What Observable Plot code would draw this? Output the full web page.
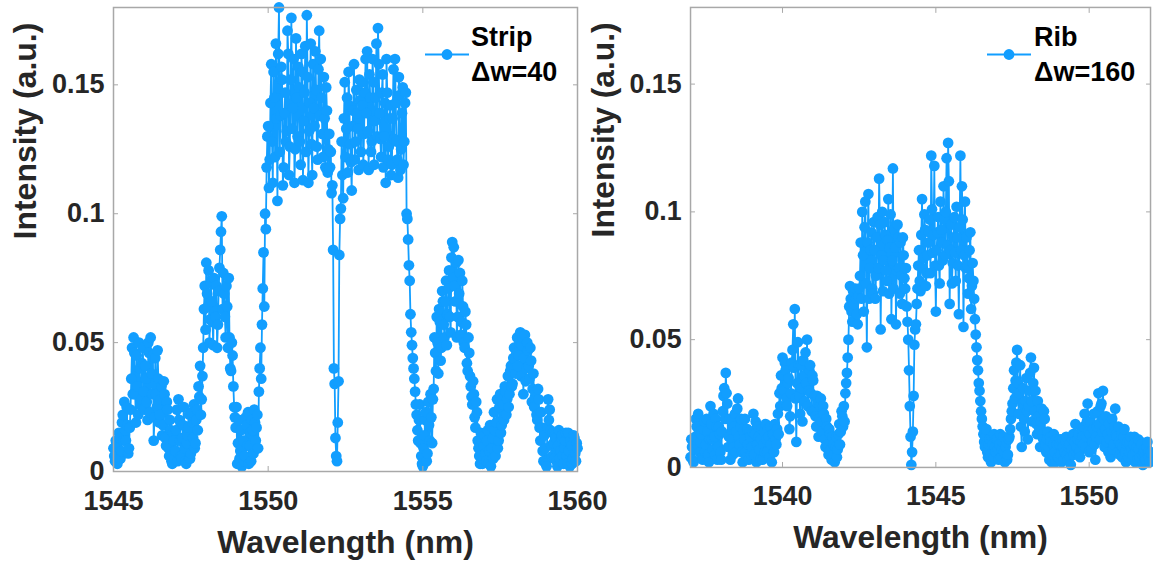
<!DOCTYPE html>
<html><head><meta charset="utf-8">
<script src="https://cdn.jsdelivr.net/npm/d3@7"></script>
<script src="https://cdn.jsdelivr.net/npm/@observablehq/plot@0.6"></script>
<style>
html,body{margin:0;padding:0;background:#fff;}
body{width:1153px;height:563px;overflow:hidden;position:relative;font-family:"Liberation Sans",Arial,sans-serif;}
.panel{position:absolute;top:0;}
.legend{position:absolute;top:20px;font-weight:bold;font-size:27px;line-height:35px;color:#000;white-space:nowrap;}
.swatch{position:absolute;top:48px;}
</style></head><body>
<div id="left" class="panel" style="left:0px"></div>
<div id="right" class="panel" style="left:578px"></div>
<script>
// ---- Strip (Δw=40): samples on the 0.05 nm grid ----
const stripWavelength = [
1545,1545.05,1545.1,1545.15,1545.2,1545.25,1545.3,1545.35,1545.4,1545.45,1545.5,1545.55,1545.6,1545.65,1545.7,1545.75,1545.8,1545.85,1545.9,1545.95,
1546,1546.05,1546.1,1546.15,1546.2,1546.25,1546.3,1546.35,1546.4,1546.45,1546.5,1546.55,1546.6,1546.65,1546.7,1546.75,1546.8,1546.85,1546.9,1546.95,
1547,1547.05,1547.1,1547.15,1547.2,1547.25,1547.3,1547.35,1547.4,1547.45,1547.5,1547.55,1547.6,1547.65,1547.7,1547.75,1547.8,1547.85,1547.9,1547.95,
1548,1548.05,1548.1,1548.15,1548.2,1548.25,1548.3,1548.35,1548.4,1548.45,1548.5,1548.55,1548.6,1548.65,1548.7,1548.75,1548.8,1548.85,1548.9,1548.95,
1549,1549.05,1549.1,1549.15,1549.2,1549.25,1549.3,1549.35,1549.4,1549.45,1549.5,1549.55,1549.6,1549.65,1549.7,1549.75,1549.8,1549.85,1549.9,1549.95,
1550,1550.05,1550.1,1550.15,1550.2,1550.25,1550.3,1550.35,1550.4,1550.45,1550.5,1550.55,1550.6,1550.65,1550.7,1550.75,1550.8,1550.85,1550.9,1550.95,
1551,1551.05,1551.1,1551.15,1551.2,1551.25,1551.3,1551.35,1551.4,1551.45,1551.5,1551.55,1551.6,1551.65,1551.7,1551.75,1551.8,1551.85,1551.9,1551.95,
1552,1552.05,1552.1,1552.15,1552.2,1552.25,1552.3,1552.35,1552.4,1552.45,1552.5,1552.55,1552.6,1552.65,1552.7,1552.75,1552.8,1552.85,1552.9,1552.95,
1553,1553.05,1553.1,1553.15,1553.2,1553.25,1553.3,1553.35,1553.4,1553.45,1553.5,1553.55,1553.6,1553.65,1553.7,1553.75,1553.8,1553.85,1553.9,1553.95,
1554,1554.05,1554.1,1554.15,1554.2,1554.25,1554.3,1554.35,1554.4,1554.45,1554.5,1554.55,1554.6,1554.65,1554.7,1554.75,1554.8,1554.85,1554.9,1554.95,
1555,1555.05,1555.1,1555.15,1555.2,1555.25,1555.3,1555.35,1555.4,1555.45,1555.5,1555.55,1555.6,1555.65,1555.7,1555.75,1555.8,1555.85,1555.9,1555.95,
1556,1556.05,1556.1,1556.15,1556.2,1556.25,1556.3,1556.35,1556.4,1556.45,1556.5,1556.55,1556.6,1556.65,1556.7,1556.75,1556.8,1556.85,1556.9,1556.95,
1557,1557.05,1557.1,1557.15,1557.2,1557.25,1557.3,1557.35,1557.4,1557.45,1557.5,1557.55,1557.6,1557.65,1557.7,1557.75,1557.8,1557.85,1557.9,1557.95,
1558,1558.05,1558.1,1558.15,1558.2,1558.25,1558.3,1558.35,1558.4,1558.45,1558.5,1558.55,1558.6,1558.65,1558.7,1558.75,1558.8,1558.85,1558.9,1558.95,
1559,1559.05,1559.1,1559.15,1559.2,1559.25,1559.3,1559.35,1559.4,1559.45,1559.5,1559.55,1559.6,1559.65,1559.7,1559.75,1559.8,1559.85,1559.9,1559.95,
1560];
const stripIntensity = [
0.009,0.004,0.011,0.006,0.013,0.008,0.022,0.027,0.012,0.018,0.009,0.024,0.048,0.052,0.03,0.045,0.022,0.04,0.028,0.048,
0.024,0.036,0.02,0.046,0.052,0.03,0.012,0.044,0.025,0.036,0.022,0.033,0.018,0.03,0.01,0.024,0.006,0.016,0.003,0.012,
0.008,0.024,0.028,0.012,0.005,0.018,0.009,0.003,0.014,0.022,0.007,0.019,0.026,0.011,0.024,0.033,0.041,0.028,0.048,0.072,
0.081,0.064,0.05,0.073,0.058,0.075,0.06,0.048,0.07,0.086,0.099,0.077,0.06,0.072,0.048,0.052,0.039,0.045,0.025,0.017,
0.003,0.02,0.008,0.002,0.012,0.006,0.018,0.023,0.01,0.004,0.016,0.024,0.012,0.022,0.031,0.048,0.057,0.085,0.1,0.118,
0.134,0.121,0.158,0.112,0.145,0.166,0.105,0.18,0.138,0.152,0.118,0.147,0.132,0.162,0.126,0.176,0.141,0.112,0.168,0.13,
0.149,0.119,0.155,0.136,0.165,0.177,0.112,0.143,0.127,0.158,0.134,0.148,0.121,0.171,0.16,0.131,0.153,0.118,0.14,0.125,
0.118,0.108,0.086,0.034,0.006,0.019,0.084,0.102,0.115,0.137,0.122,0.145,0.155,0.127,0.109,0.14,0.121,0.148,0.133,0.152,
0.124,0.142,0.131,0.16,0.163,0.117,0.145,0.128,0.151,0.136,0.166,0.172,0.139,0.122,0.154,0.13,0.112,0.147,0.126,0.142,
0.119,0.156,0.16,0.128,0.114,0.146,0.125,0.149,0.128,0.147,0.098,0.08,0.061,0.049,0.04,0.031,0.022,0.012,0.026,0.006,
0.002,0.014,0.023,0.007,0.018,0.03,0.011,0.032,0.046,0.06,0.038,0.058,0.048,0.066,0.052,0.074,0.061,0.078,0.054,0.089,
0.087,0.066,0.052,0.082,0.077,0.058,0.064,0.048,0.057,0.039,0.046,0.033,0.026,0.03,0.017,0.023,0.009,0.003,0.012,0.005,
0.014,0.004,0.016,0.008,0.002,0.013,0.023,0.006,0.028,0.012,0.03,0.018,0.026,0.033,0.022,0.037,0.03,0.041,0.034,0.048,
0.038,0.052,0.045,0.054,0.049,0.03,0.053,0.04,0.047,0.036,0.043,0.032,0.025,0.031,0.02,0.028,0.012,0.017,0.004,0.009,
0.002,0.028,0.024,0.01,0.015,0.005,0.013,0.002,0.016,0.008,0.014,0.003,0.012,0.006,0.015,0.002,0.01,0.005,0.013,0.004,
0.009];
// ---- Strip: samples between the grid points ----
const stripWavelengthMid = [
1545.025,1545.075,1545.125,1545.175,1545.225,1545.275,1545.325,1545.375,1545.425,1545.475,1545.525,1545.575,1545.625,1545.675,1545.725,1545.775,1545.825,1545.875,1545.925,1545.975,
1546.025,1546.075,1546.125,1546.175,1546.225,1546.275,1546.325,1546.375,1546.425,1546.475,1546.525,1546.575,1546.625,1546.675,1546.725,1546.775,1546.825,1546.875,1546.925,1546.975,
1547.025,1547.075,1547.125,1547.175,1547.225,1547.275,1547.325,1547.375,1547.425,1547.475,1547.525,1547.575,1547.625,1547.675,1547.725,1547.775,1547.825,1547.875,1547.925,1547.975,
1548.025,1548.075,1548.125,1548.175,1548.225,1548.275,1548.325,1548.375,1548.425,1548.475,1548.525,1548.575,1548.625,1548.675,1548.725,1548.775,1548.825,1548.875,1548.925,1548.975,
1549.025,1549.075,1549.125,1549.175,1549.225,1549.275,1549.325,1549.375,1549.425,1549.475,1549.525,1549.575,1549.625,1549.675,1549.725,1549.775,1549.825,1549.875,1549.925,1549.975,
1550.025,1550.075,1550.125,1550.175,1550.225,1550.275,1550.325,1550.375,1550.425,1550.475,1550.525,1550.575,1550.625,1550.675,1550.725,1550.775,1550.825,1550.875,1550.925,1550.975,
1551.025,1551.075,1551.125,1551.175,1551.225,1551.275,1551.325,1551.375,1551.425,1551.475,1551.525,1551.575,1551.625,1551.675,1551.725,1551.775,1551.825,1551.875,1551.925,1551.975,
1552.025,1552.075,1552.125,1552.175,1552.225,1552.275,1552.325,1552.375,1552.425,1552.475,1552.525,1552.575,1552.625,1552.675,1552.725,1552.775,1552.825,1552.875,1552.925,1552.975,
1553.025,1553.075,1553.125,1553.175,1553.225,1553.275,1553.325,1553.375,1553.425,1553.475,1553.525,1553.575,1553.625,1553.675,1553.725,1553.775,1553.825,1553.875,1553.925,1553.975,
1554.025,1554.075,1554.125,1554.175,1554.225,1554.275,1554.325,1554.375,1554.425,1554.475,1554.525,1554.575,1554.625,1554.675,1554.725,1554.775,1554.825,1554.875,1554.925,1554.975,
1555.025,1555.075,1555.125,1555.175,1555.225,1555.275,1555.325,1555.375,1555.425,1555.475,1555.525,1555.575,1555.625,1555.675,1555.725,1555.775,1555.825,1555.875,1555.925,1555.975,
1556.025,1556.075,1556.125,1556.175,1556.225,1556.275,1556.325,1556.375,1556.425,1556.475,1556.525,1556.575,1556.625,1556.675,1556.725,1556.775,1556.825,1556.875,1556.925,1556.975,
1557.025,1557.075,1557.125,1557.175,1557.225,1557.275,1557.325,1557.375,1557.425,1557.475,1557.525,1557.575,1557.625,1557.675,1557.725,1557.775,1557.825,1557.875,1557.925,1557.975,
1558.025,1558.075,1558.125,1558.175,1558.225,1558.275,1558.325,1558.375,1558.425,1558.475,1558.525,1558.575,1558.625,1558.675,1558.725,1558.775,1558.825,1558.875,1558.925,1558.975,
1559.025,1559.075,1559.125,1559.175,1559.225,1559.275,1559.325,1559.375,1559.425,1559.475,1559.525,1559.575,1559.625,1559.675,1559.725,1559.775,1559.825,1559.875,1559.925,1559.975];
const stripIntensityMid = [
0.006,0.012,0.003,0.015,0.005,0.019,0.012,0.016,0.025,0.007,0.017,0.036,0.03,0.046,0.019,0.033,0.05,0.026,0.042,0.031,
0.041,0.027,0.05,0.023,0.038,0.045,0.021,0.03,0.047,0.019,0.028,0.014,0.035,0.013,0.027,0.009,0.02,0.004,0.015,0.005,
0.016,0.004,0.02,0.006,0.013,0.025,0.004,0.011,0.017,0.005,0.023,0.013,0.009,0.02,0.016,0.029,0.022,0.037,0.063,0.055,
0.069,0.078,0.059,0.066,0.049,0.062,0.072,0.057,0.079,0.093,0.063,0.069,0.052,0.064,0.075,0.04,0.05,0.033,0.021,0.025,
0.011,0.005,0.016,0.009,0.004,0.021,0.01,0.003,0.015,0.02,0.007,0.019,0.017,0.009,0.04,0.036,0.071,0.064,0.094,0.13,
0.11,0.143,0.128,0.155,0.122,0.137,0.162,0.124,0.157,0.111,0.139,0.128,0.171,0.115,0.152,0.133,0.16,0.125,0.145,0.157,
0.128,0.162,0.113,0.147,0.124,0.153,0.132,0.166,0.115,0.141,0.163,0.126,0.156,0.138,0.145,0.122,0.137,0.149,0.116,0.131,
0.124,0.111,0.04,0.013,0.004,0.035,0.098,0.128,0.106,0.151,0.133,0.116,0.142,0.12,0.134,0.158,0.128,0.139,0.117,0.144,
0.151,0.119,0.147,0.139,0.132,0.154,0.124,0.16,0.119,0.145,0.13,0.158,0.129,0.147,0.118,0.143,0.16,0.121,0.137,0.115,
0.137,0.129,0.143,0.121,0.153,0.117,0.139,0.119,0.143,0.1,0.09,0.074,0.054,0.044,0.036,0.026,0.016,0.02,0.011,0.003,
0.009,0.02,0.004,0.027,0.012,0.021,0.028,0.052,0.039,0.05,0.063,0.043,0.07,0.057,0.066,0.049,0.071,0.06,0.083,0.075,
0.072,0.081,0.06,0.069,0.053,0.074,0.05,0.062,0.042,0.052,0.037,0.029,0.035,0.021,0.027,0.012,0.006,0.015,0.003,0.01,
0.007,0.012,0.003,0.018,0.009,0.005,0.016,0.019,0.009,0.025,0.015,0.028,0.02,0.031,0.028,0.025,0.039,0.033,0.044,0.04,
0.046,0.041,0.05,0.037,0.052,0.044,0.035,0.05,0.041,0.048,0.027,0.038,0.029,0.022,0.032,0.017,0.023,0.008,0.014,0.003,
0.017,0.02,0.016,0.006,0.011,0.014,0.004,0.01,0.005,0.013,0.006,0.009,0.015,0.003,0.008,0.012,0.003,0.014,0.007,0.011];

// ---- Rib (Δw=160): samples on the 0.05 nm grid ----
const ribWavelength = [
1537,1537.05,1537.1,1537.15,1537.2,1537.25,1537.3,1537.35,1537.4,1537.45,1537.5,1537.55,1537.6,1537.65,1537.7,1537.75,1537.8,1537.85,1537.9,1537.95,
1538,1538.05,1538.1,1538.15,1538.2,1538.25,1538.3,1538.35,1538.4,1538.45,1538.5,1538.55,1538.6,1538.65,1538.7,1538.75,1538.8,1538.85,1538.9,1538.95,
1539,1539.05,1539.1,1539.15,1539.2,1539.25,1539.3,1539.35,1539.4,1539.45,1539.5,1539.55,1539.6,1539.65,1539.7,1539.75,1539.8,1539.85,1539.9,1539.95,
1540,1540.05,1540.1,1540.15,1540.2,1540.25,1540.3,1540.35,1540.4,1540.45,1540.5,1540.55,1540.6,1540.65,1540.7,1540.75,1540.8,1540.85,1540.9,1540.95,
1541,1541.05,1541.1,1541.15,1541.2,1541.25,1541.3,1541.35,1541.4,1541.45,1541.5,1541.55,1541.6,1541.65,1541.7,1541.75,1541.8,1541.85,1541.9,1541.95,
1542,1542.05,1542.1,1542.15,1542.2,1542.25,1542.3,1542.35,1542.4,1542.45,1542.5,1542.55,1542.6,1542.65,1542.7,1542.75,1542.8,1542.85,1542.9,1542.95,
1543,1543.05,1543.1,1543.15,1543.2,1543.25,1543.3,1543.35,1543.4,1543.45,1543.5,1543.55,1543.6,1543.65,1543.7,1543.75,1543.8,1543.85,1543.9,1543.95,
1544,1544.05,1544.1,1544.15,1544.2,1544.25,1544.3,1544.35,1544.4,1544.45,1544.5,1544.55,1544.6,1544.65,1544.7,1544.75,1544.8,1544.85,1544.9,1544.95,
1545,1545.05,1545.1,1545.15,1545.2,1545.25,1545.3,1545.35,1545.4,1545.45,1545.5,1545.55,1545.6,1545.65,1545.7,1545.75,1545.8,1545.85,1545.9,1545.95,
1546,1546.05,1546.1,1546.15,1546.2,1546.25,1546.3,1546.35,1546.4,1546.45,1546.5,1546.55,1546.6,1546.65,1546.7,1546.75,1546.8,1546.85,1546.9,1546.95,
1547,1547.05,1547.1,1547.15,1547.2,1547.25,1547.3,1547.35,1547.4,1547.45,1547.5,1547.55,1547.6,1547.65,1547.7,1547.75,1547.8,1547.85,1547.9,1547.95,
1548,1548.05,1548.1,1548.15,1548.2,1548.25,1548.3,1548.35,1548.4,1548.45,1548.5,1548.55,1548.6,1548.65,1548.7,1548.75,1548.8,1548.85,1548.9,1548.95,
1549,1549.05,1549.1,1549.15,1549.2,1549.25,1549.3,1549.35,1549.4,1549.45,1549.5,1549.55,1549.6,1549.65,1549.7,1549.75,1549.8,1549.85,1549.9,1549.95,
1550,1550.05,1550.1,1550.15,1550.2,1550.25,1550.3,1550.35,1550.4,1550.45,1550.5,1550.55,1550.6,1550.65,1550.7,1550.75,1550.8,1550.85,1550.9,1550.95,
1551,1551.05,1551.1,1551.15,1551.2,1551.25,1551.3,1551.35,1551.4,1551.45,1551.5,1551.55,1551.6,1551.65,1551.7,1551.75,1551.8,1551.85,1551.9,1551.95,
1552];
const ribIntensity = [
0.004,0.008,0.002,0.012,0.016,0.021,0.006,0.013,0.003,0.018,0.009,0.014,0.002,0.024,0.011,0.021,0.005,0.016,0.008,0.013,
0.003,0.022,0.031,0.037,0.025,0.012,0.003,0.018,0.008,0.021,0.014,0.027,0.009,0.019,0.002,0.011,0.006,0.015,0.003,0.012,
0.008,0.021,0.013,0.002,0.016,0.007,0.011,0.003,0.014,0.017,0.006,0.012,0.016,0.002,0.013,0.017,0.009,0.021,0.029,0.036,
0.043,0.03,0.038,0.024,0.035,0.02,0.041,0.056,0.062,0.01,0.049,0.028,0.04,0.018,0.036,0.045,0.05,0.03,0.04,0.022,
0.034,0.028,0.016,0.025,0.019,0.027,0.014,0.021,0.008,0.016,0.005,0.013,0.003,0.009,0.002,0.012,0.007,0.017,0.014,0.02,
0.024,0.029,0.037,0.05,0.071,0.061,0.069,0.058,0.066,0.056,0.07,0.088,0.1,0.061,0.104,0.047,0.107,0.078,0.092,0.068,
0.085,0.075,0.098,0.113,0.054,0.1,0.081,0.091,0.073,0.105,0.086,0.058,0.117,0.093,0.056,0.095,0.078,0.088,0.064,0.083,
0.07,0.063,0.05,0.024,0.001,0.014,0.048,0.056,0.07,0.085,0.069,0.105,0.082,0.093,0.076,0.088,0.097,0.122,0.084,0.118,
0.061,0.092,0.079,0.104,0.088,0.11,0.083,0.121,0.127,0.064,0.095,0.08,0.098,0.073,0.09,0.06,0.122,0.11,0.055,0.104,
0.09,0.068,0.085,0.062,0.08,0.066,0.052,0.042,0.033,0.026,0.019,0.013,0.008,0.015,0.004,0.011,0.002,0.009,0.013,0.006,
0.011,0.003,0.013,0.007,0.012,0.002,0.01,0.005,0.012,0.019,0.025,0.038,0.034,0.046,0.021,0.04,0.008,0.031,0.014,0.035,
0.011,0.03,0.043,0.018,0.039,0.03,0.013,0.02,0.008,0.023,0.011,0.019,0.006,0.014,0.003,0.01,0.005,0.013,0.002,0.009,
0.004,0.011,0.002,0.008,0.006,0.012,0.003,0.009,0.001,0.011,0.005,0.017,0.008,0.013,0.004,0.015,0.009,0.021,0.012,0.025,
0.006,0.018,0.01,0.021,0.003,0.016,0.029,0.011,0.025,0.03,0.008,0.02,0.013,0.017,0.004,0.019,0.009,0.023,0.012,0.016,
0.005,0.013,0.008,0.015,0.002,0.01,0.006,0.012,0.003,0.009,0.002,0.008,0.011,0.004,0.009,0.001,0.007,0.003,0.01,0.004,
0.006];
// ---- Rib: samples between the grid points ----
const ribWavelengthMid = [
1537.025,1537.075,1537.125,1537.175,1537.225,1537.275,1537.325,1537.375,1537.425,1537.475,1537.525,1537.575,1537.625,1537.675,1537.725,1537.775,1537.825,1537.875,1537.925,1537.975,
1538.025,1538.075,1538.125,1538.175,1538.225,1538.275,1538.325,1538.375,1538.425,1538.475,1538.525,1538.575,1538.625,1538.675,1538.725,1538.775,1538.825,1538.875,1538.925,1538.975,
1539.025,1539.075,1539.125,1539.175,1539.225,1539.275,1539.325,1539.375,1539.425,1539.475,1539.525,1539.575,1539.625,1539.675,1539.725,1539.775,1539.825,1539.875,1539.925,1539.975,
1540.025,1540.075,1540.125,1540.175,1540.225,1540.275,1540.325,1540.375,1540.425,1540.475,1540.525,1540.575,1540.625,1540.675,1540.725,1540.775,1540.825,1540.875,1540.925,1540.975,
1541.025,1541.075,1541.125,1541.175,1541.225,1541.275,1541.325,1541.375,1541.425,1541.475,1541.525,1541.575,1541.625,1541.675,1541.725,1541.775,1541.825,1541.875,1541.925,1541.975,
1542.025,1542.075,1542.125,1542.175,1542.225,1542.275,1542.325,1542.375,1542.425,1542.475,1542.525,1542.575,1542.625,1542.675,1542.725,1542.775,1542.825,1542.875,1542.925,1542.975,
1543.025,1543.075,1543.125,1543.175,1543.225,1543.275,1543.325,1543.375,1543.425,1543.475,1543.525,1543.575,1543.625,1543.675,1543.725,1543.775,1543.825,1543.875,1543.925,1543.975,
1544.025,1544.075,1544.125,1544.175,1544.225,1544.275,1544.325,1544.375,1544.425,1544.475,1544.525,1544.575,1544.625,1544.675,1544.725,1544.775,1544.825,1544.875,1544.925,1544.975,
1545.025,1545.075,1545.125,1545.175,1545.225,1545.275,1545.325,1545.375,1545.425,1545.475,1545.525,1545.575,1545.625,1545.675,1545.725,1545.775,1545.825,1545.875,1545.925,1545.975,
1546.025,1546.075,1546.125,1546.175,1546.225,1546.275,1546.325,1546.375,1546.425,1546.475,1546.525,1546.575,1546.625,1546.675,1546.725,1546.775,1546.825,1546.875,1546.925,1546.975,
1547.025,1547.075,1547.125,1547.175,1547.225,1547.275,1547.325,1547.375,1547.425,1547.475,1547.525,1547.575,1547.625,1547.675,1547.725,1547.775,1547.825,1547.875,1547.925,1547.975,
1548.025,1548.075,1548.125,1548.175,1548.225,1548.275,1548.325,1548.375,1548.425,1548.475,1548.525,1548.575,1548.625,1548.675,1548.725,1548.775,1548.825,1548.875,1548.925,1548.975,
1549.025,1549.075,1549.125,1549.175,1549.225,1549.275,1549.325,1549.375,1549.425,1549.475,1549.525,1549.575,1549.625,1549.675,1549.725,1549.775,1549.825,1549.875,1549.925,1549.975,
1550.025,1550.075,1550.125,1550.175,1550.225,1550.275,1550.325,1550.375,1550.425,1550.475,1550.525,1550.575,1550.625,1550.675,1550.725,1550.775,1550.825,1550.875,1550.925,1550.975,
1551.025,1551.075,1551.125,1551.175,1551.225,1551.275,1551.325,1551.375,1551.425,1551.475,1551.525,1551.575,1551.625,1551.675,1551.725,1551.775,1551.825,1551.875,1551.925,1551.975];
const ribIntensityMid = [
0.011,0.003,0.007,0.019,0.009,0.014,0.01,0.004,0.015,0.006,0.019,0.005,0.011,0.017,0.007,0.012,0.019,0.003,0.016,0.006,
0.014,0.028,0.019,0.029,0.008,0.019,0.011,0.005,0.016,0.006,0.023,0.012,0.016,0.006,0.014,0.019,0.004,0.009,0.014,0.005,
0.014,0.005,0.018,0.009,0.012,0.003,0.015,0.009,0.006,0.011,0.015,0.004,0.009,0.013,0.006,0.011,0.015,0.013,0.024,0.031,
0.036,0.041,0.027,0.033,0.015,0.029,0.046,0.039,0.027,0.033,0.04,0.021,0.031,0.042,0.026,0.033,0.024,0.038,0.029,0.036,
0.022,0.02,0.028,0.012,0.024,0.018,0.024,0.011,0.019,0.009,0.015,0.007,0.012,0.005,0.008,0.004,0.013,0.009,0.022,0.016,
0.018,0.033,0.043,0.063,0.066,0.057,0.064,0.07,0.06,0.067,0.075,0.066,0.083,0.094,0.072,0.088,0.066,0.085,0.07,0.096,
0.066,0.09,0.078,0.095,0.083,0.069,0.096,0.077,0.089,0.068,0.099,0.081,0.07,0.086,0.077,0.09,0.068,0.075,0.09,0.074,
0.078,0.057,0.038,0.012,0.006,0.028,0.054,0.064,0.079,0.073,0.091,0.078,0.099,0.071,0.083,0.092,0.076,0.101,0.091,0.079,
0.085,0.098,0.072,0.093,0.081,0.097,0.1,0.087,0.112,0.085,0.072,0.09,0.084,0.102,0.079,0.094,0.085,0.097,0.083,0.078,
0.079,0.074,0.092,0.071,0.073,0.058,0.047,0.038,0.03,0.022,0.016,0.01,0.012,0.006,0.009,0.005,0.012,0.004,0.008,0.011,
0.007,0.009,0.004,0.01,0.006,0.008,0.003,0.011,0.015,0.022,0.031,0.027,0.041,0.033,0.029,0.016,0.025,0.019,0.026,0.022,
0.024,0.037,0.026,0.033,0.022,0.017,0.026,0.015,0.018,0.013,0.022,0.009,0.011,0.008,0.012,0.002,0.009,0.006,0.011,0.004,
0.009,0.005,0.011,0.003,0.01,0.005,0.008,0.004,0.007,0.013,0.01,0.006,0.011,0.006,0.01,0.012,0.016,0.008,0.018,0.014,
0.013,0.007,0.015,0.009,0.012,0.022,0.017,0.024,0.014,0.019,0.015,0.01,0.006,0.011,0.014,0.007,0.016,0.013,0.006,0.01,
0.009,0.004,0.012,0.006,0.009,0.004,0.01,0.007,0.005,0.012,0.006,0.003,0.007,0.01,0.005,0.006,0.003,0.008,0.006,0.002];

// ---- axes, ticks, labels, legends ----
const stripDomain = [1545, 1560];
const stripTicks = [1545, 1550, 1555, 1560];
const ribDomain = [1537, 1552];
const ribTicks = [1540, 1545, 1550];
const intensityDomain = [0, 0.18];
const intensityTicks = [0, 0.05, 0.1, 0.15];
const xLabel = "Wavelength (nm)";
const yLabel = "Intensity (a.u.)";
const stripLegend = ["Strip", "Δw=40"];
const ribLegend = ["Rib", "Δw=160"];

const BLUE = "#129eff";
const GRAY = "#a8a8a8";
const FONT = '"Liberation Sans", Arial, Helvetica, sans-serif';
const DOT_R = 5.4;

function merge(X1, Y1, X2, Y2) {
  const a = X1.map((x, i) => ({x, y: Y1[i]}));
  const b = X2.map((x, i) => ({x, y: Y2[i]}));
  return a.concat(b).sort((p, q) => p.x - q.x);
}

function panel(pts, xDomain, xTicks) {
  return Plot.plot({
    width: 580, height: 563,
    marginLeft: 113, marginRight: 3, marginTop: 7, marginBottom: 92,
    style: {fontFamily: FONT, fontWeight: "bold", color: "#262626", background: "transparent", overflow: "visible"},
    x: {domain: xDomain},
    y: {domain: intensityDomain},
    marks: [
      Plot.line(pts, {x: "x", y: "y", stroke: BLUE, strokeWidth: 1.8}),
      Plot.dot(pts, {x: "x", y: "y", r: DOT_R, fill: BLUE}),
      Plot.frame({stroke: GRAY, strokeWidth: 1.5}),
      Plot.axisX(xTicks, {anchor: "bottom", tickSize: -5, stroke: GRAY, fill: "none", label: null}),
      Plot.axisX(xTicks, {anchor: "top", tickSize: -5, stroke: GRAY, fill: "none", label: null}),
      Plot.axisY(intensityTicks, {anchor: "left", tickSize: -5, stroke: GRAY, fill: "none", label: null}),
      Plot.axisY(intensityTicks, {anchor: "right", tickSize: -5, stroke: GRAY, fill: "none", label: null}),
      Plot.axisX(xTicks, {anchor: "bottom", tickSize: 0, tickPadding: 19, fontSize: 27, label: null, tickFormat: d => String(d)}),
      Plot.axisY(intensityTicks, {anchor: "left", tickSize: 0, tickPadding: 9, fontSize: 27, label: null, tickFormat: d => String(d)}),
      Plot.text([xLabel], {text: d => d, frameAnchor: "bottom", dy: 81, lineAnchor: "bottom", fontSize: 32, fill: "#262626"}),
      Plot.text([yLabel], {text: d => d, frameAnchor: "left", dx: -100, rotate: -90, lineAnchor: "top", fontSize: 32, fill: "#262626"})
    ]
  });
}

document.getElementById("left").appendChild(panel(merge(stripWavelength, stripIntensity, stripWavelengthMid, stripIntensityMid), stripDomain, stripTicks));
document.getElementById("right").appendChild(panel(merge(ribWavelength, ribIntensity, ribWavelengthMid, ribIntensityMid), ribDomain, ribTicks));

function legend(lines, swatchLeft, textLeft) {
  const sw = document.createElementNS("http://www.w3.org/2000/svg", "svg");
  sw.setAttribute("class", "swatch");
  sw.setAttribute("width", 44); sw.setAttribute("height", 13);
  sw.style.left = swatchLeft + "px";
  sw.innerHTML = `<line x1="0" x2="44" y1="6.5" y2="6.5" stroke="${BLUE}" stroke-width="2"/><circle cx="22" cy="6.5" r="${DOT_R}" fill="${BLUE}"/>`;
  document.body.appendChild(sw);
  const div = document.createElement("div");
  div.className = "legend";
  div.style.left = textLeft + "px";
  div.innerHTML = lines.map(s => `<div>${s}</div>`).join("");
  document.body.appendChild(div);
}
legend(stripLegend, 425, 471);
legend(ribLegend, 987, 1034);
</script></body></html>
